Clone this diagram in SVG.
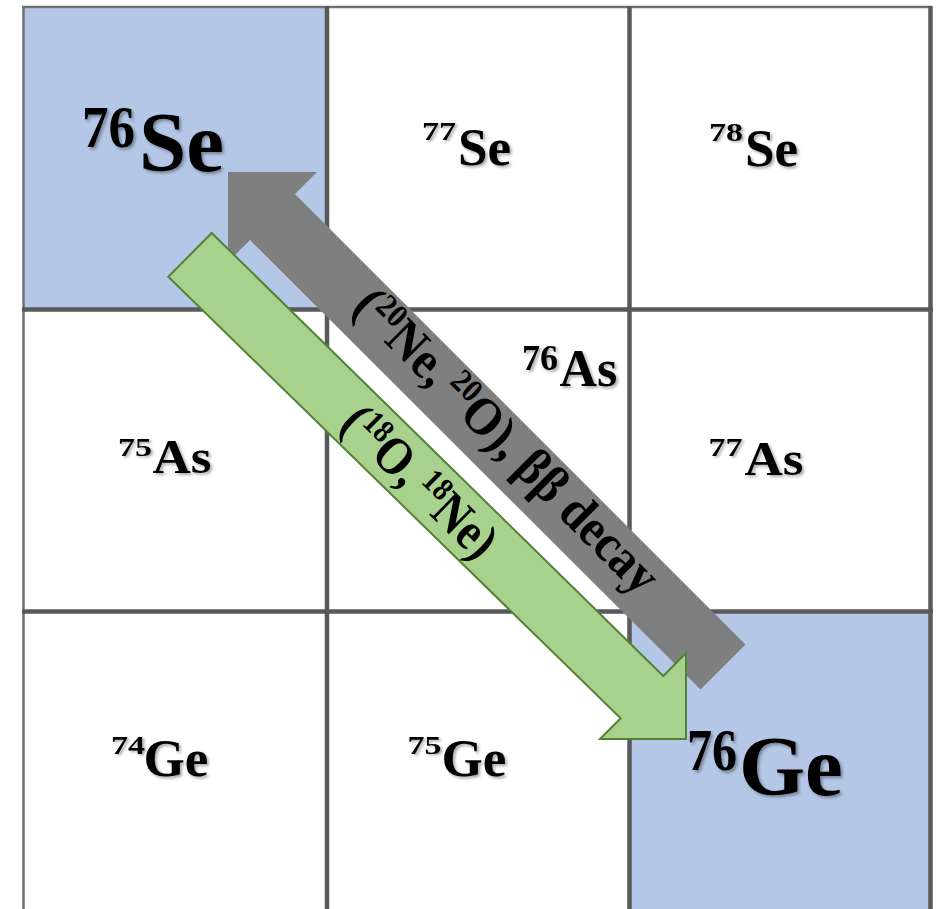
<svg xmlns="http://www.w3.org/2000/svg" width="939" height="909" viewBox="0 0 939 909">
<defs>
<style>
.cell{fill:#ffffff}
.hl{fill:#B4C7E7}
.lbl{font-family:"Liberation Serif","Times New Roman",serif;font-weight:bold;fill:#000;filter:url(#sh)}
.grid{stroke:#595959;stroke-width:4.5;fill:none}
.gridthin{stroke:#707070;stroke-width:2.5;fill:none}
.atxt{font-family:"Liberation Serif","Times New Roman",serif;font-weight:bold;font-size:47px;fill:#000}
</style>
<filter id="sh" x="-20%" y="-20%" width="140%" height="140%">
<feDropShadow dx="2" dy="2" stdDeviation="1.5" flood-color="#000" flood-opacity="0.35"/>
</filter>
</defs>
<rect x="0" y="0" width="939" height="909" fill="#ffffff"/>

<g id="cell-76Se">
<rect class="hl" x="23.5" y="7" width="303.5" height="302.5"/>
<text class="lbl" font-size="53" transform="translate(82,147) scale(1,1.12)">76</text>
<text class="lbl" font-size="85" x="139" y="171">Se</text>
</g>
<g id="cell-77Se">
<rect class="cell" x="327" y="7" width="302.5" height="302.5"/>
<text class="lbl" font-size="34" transform="translate(422,139.5) scale(1,0.72)">77</text>
<text class="lbl" font-size="53" x="458" y="164.5">Se</text>
</g>
<g id="cell-78Se">
<rect class="cell" x="629.5" y="7" width="301" height="302.5"/>
<text class="lbl" font-size="34" transform="translate(709,140.5) scale(1,0.72)">78</text>
<text class="lbl" font-size="53" x="745" y="166">Se</text>
</g>
<g id="cell-75As">
<rect class="cell" x="23.5" y="309.5" width="303.5" height="302"/>
<text class="lbl" font-size="34" transform="translate(118,456) scale(1,0.72)">75</text>
<text class="lbl" font-size="53" transform="translate(152.5,473) scale(1,0.92)">As</text>
</g>
<g id="cell-76As">
<rect class="cell" x="327" y="309.5" width="302.5" height="302"/>
<text class="lbl" font-size="36" x="522" y="369.5">76</text>
<text class="lbl" font-size="52" transform="translate(559.5,386) scale(1,1.03)">As</text>
</g>
<g id="cell-77As">
<rect class="cell" x="629.5" y="309.5" width="301" height="302"/>
<text class="lbl" font-size="34" transform="translate(708.5,456) scale(1,0.72)">77</text>
<text class="lbl" font-size="53" transform="translate(744.5,474.5) scale(1,0.92)">As</text>
</g>
<g id="cell-74Ge">
<rect class="cell" x="23.5" y="611.5" width="303.5" height="300"/>
<text class="lbl" font-size="34" transform="translate(111,754) scale(1,0.72)">74</text>
<text class="lbl" font-size="53" x="143.5" y="776">Ge</text>
</g>
<g id="cell-75Ge">
<rect class="cell" x="327" y="611.5" width="302.5" height="300"/>
<text class="lbl" font-size="34" transform="translate(407.5,754) scale(1,0.72)">75</text>
<text class="lbl" font-size="53" x="441.5" y="776">Ge</text>
</g>
<g id="cell-76Ge">
<rect class="hl" x="629.5" y="611.5" width="301" height="300"/>
<text class="lbl" font-size="50" transform="translate(687,770) scale(1,1.18)">76</text>
<text class="lbl" font-size="85" x="739" y="795">Ge</text>
</g>

<g id="grid-lines">
<line class="gridthin" x1="22" y1="7" x2="932" y2="7"/>
<line class="gridthin" x1="23.5" y1="6" x2="23.5" y2="909"/>
<line class="grid" x1="327" y1="6" x2="327" y2="909"/>
<line class="grid" x1="629.5" y1="6" x2="629.5" y2="909"/>
<line class="grid" x1="930.5" y1="6" x2="930.5" y2="909"/>
<line class="grid" x1="22" y1="309.5" x2="933" y2="309.5"/>
<line class="grid" x1="22" y1="611.5" x2="933" y2="611.5"/>
</g>

<g id="connectors">
<g id="arrow-grey">
<polygon fill="#7F7F7F" points="228,172 317,172 295,194 745.5,644.5 700.5,689.5 250,240 228,262"/>
<text class="atxt" text-anchor="middle" transform="translate(495,453) rotate(45) scale(1.02,1.13)">(<tspan font-size="29" dy="-15">20</tspan><tspan dy="15">Ne,</tspan><tspan font-size="29" dx="8" dy="-15">20</tspan><tspan dy="15">O), ββ decay</tspan></text>
</g>
<g id="arrow-green">
<polygon fill="#A9D18E" stroke="#548235" stroke-width="2" stroke-linejoin="miter" points="211.7,233 663.3,676 686,653 686,739 600,739 620.7,718.3 168.3,276.7"/>
<text class="atxt" text-anchor="middle" transform="translate(408,494) rotate(44.4) scale(0.97,1.13)">(<tspan font-size="29" dy="-15">18</tspan><tspan dy="15">O,</tspan><tspan font-size="29" dx="8" dy="-15">18</tspan><tspan dy="15">Ne)</tspan></text>
</g>
</g>
</svg>
